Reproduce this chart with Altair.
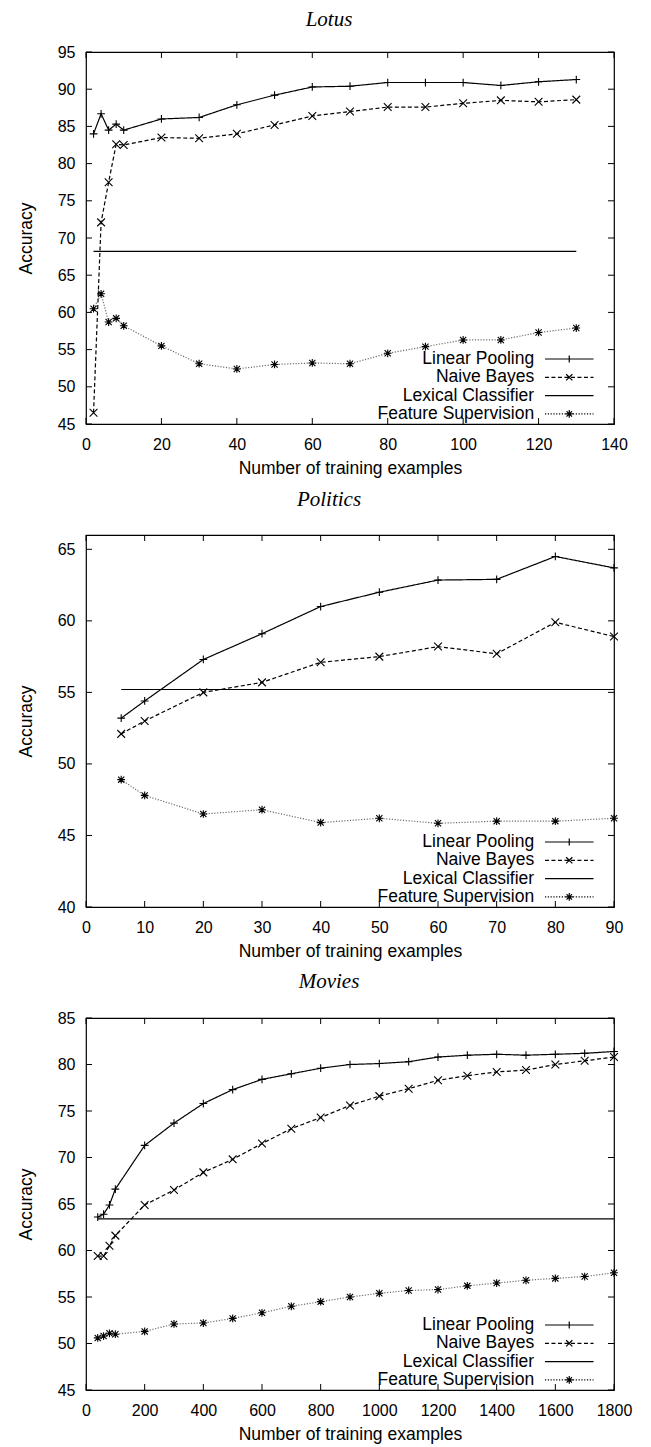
import math
import altair as alt
import pandas as pd

SERIES = ["Linear Pooling", "Naive Bayes", "Lexical Classifier", "Feature Supervision"]

# ---------------- Lotus ----------------
lotus_x = [2, 4, 6, 8, 10, 20, 30, 40, 50, 60, 70, 80, 90, 100, 110, 120, 130]
lotus_lp = [84.0, 86.7, 84.5, 85.3, 84.5, 86.0, 86.2, 87.9, 89.2, 90.3, 90.4, 90.9, 90.9, 90.9, 90.5, 91.0, 91.3]
lotus_nb = [46.5, 72.1, 77.5, 82.6, 82.5, 83.5, 83.4, 84.0, 85.2, 86.4, 87.0, 87.6, 87.6, 88.1, 88.5, 88.3, 88.6]
lotus_fs = [60.5, 62.5, 58.7, 59.2, 58.2, 55.5, 53.1, 52.4, 53.0, 53.2, 53.1, 54.5, 55.4, 56.3, 56.3, 57.3, 57.9]
lotus_lex_x = [2, 130]
lotus_lex = [68.2, 68.2]
lotus_xticks = [0, 20, 40, 60, 80, 100, 120, 140]
lotus_yticks = [45, 50, 55, 60, 65, 70, 75, 80, 85, 90, 95]

# ---------------- Politics ----------------
pol_x = [6, 10, 20, 30, 40, 50, 60, 70, 80, 90]
pol_lp = [53.2, 54.4, 57.3, 59.1, 61.0, 62.0, 62.85, 62.9, 64.5, 63.7]
pol_nb = [52.1, 53.0, 55.0, 55.7, 57.1, 57.5, 58.2, 57.7, 59.9, 58.9]
pol_fs = [48.9, 47.8, 46.5, 46.8, 45.9, 46.2, 45.85, 46.0, 46.0, 46.2]
pol_lex_x = [6, 90]
pol_lex = [55.2, 55.2]
pol_xticks = [0, 10, 20, 30, 40, 50, 60, 70, 80, 90]
pol_yticks = [40, 45, 50, 55, 60, 65]

# ---------------- Movies ----------------
mov_x = [40, 60, 80, 100, 200, 300, 400, 500, 600, 700, 800, 900, 1000,
         1100, 1200, 1300, 1400, 1500, 1600, 1700, 1800]
mov_lp = [63.6, 63.9, 64.9, 66.6, 71.3, 73.7, 75.8, 77.3, 78.4, 79.0, 79.6, 80.0, 80.1,
          80.3, 80.8, 81.0, 81.1, 81.0, 81.1, 81.2, 81.4]
mov_nb = [59.4, 59.4, 60.5, 61.6, 64.9, 66.5, 68.4, 69.8, 71.5, 73.1, 74.3, 75.6, 76.6,
          77.4, 78.3, 78.8, 79.2, 79.4, 80.0, 80.4, 80.8]
mov_fs = [50.6, 50.8, 51.1, 51.0, 51.3, 52.1, 52.2, 52.7, 53.3, 54.0, 54.5, 55.0, 55.4,
          55.7, 55.8, 56.2, 56.5, 56.8, 57.0, 57.2, 57.6]
mov_lex_x = [40, 1800]
mov_lex = [63.4, 63.4]
mov_xticks = [0, 200, 400, 600, 800, 1000, 1200, 1400, 1600, 1800]
mov_yticks = [45, 50, 55, 60, 65, 70, 75, 80, 85]

W, H = 528, 372
TICK = 6
FONT = "Liberation Sans"

# marker shapes (unit square paths)
PLUS = "M-1,0L1,0M0,-1L0,1"
CROSS = "M-1,-1L1,1M-1,1L1,-1"
STAR = "M-1,0L1,0M0,-1L0,1M-0.8,-0.8L0.8,0.8M-0.8,0.8L0.8,-0.8"
NONE = "M0,0"

# legend samples: one symbol unit = 8.75 px; line 48.6 px long, marker in the middle.
UNIT = 8.75
HALF_LINE = 24.3 / UNIT


def arms(dirs, length_px, step_px=1.0):
    """Marker arms split into short sub-paths so a dash pattern leaves them solid."""
    parts = []
    n = max(1, math.ceil(length_px / step_px))
    for dx, dy in dirs:
        norm = math.hypot(dx, dy)
        ux, uy = dx / norm, dy / norm
        for i in range(n):
            a = i * length_px / n / UNIT
            b = (i + 1) * length_px / n / UNIT
            parts.append(f"M{ux*a:.3f},{uy*a:.3f}L{ux*b:.3f},{uy*b:.3f}")
    return "".join(parts)


ORTHO = [(1, 0), (-1, 0), (0, 1), (0, -1)]
DIAG = [(1, 1), (-1, -1), (1, -1), (-1, 1)]
LINE = f"M{-HALF_LINE:.3f},0L{HALF_LINE:.3f},0"
LEG_LP = LINE + arms([(0, 1), (0, -1)], 3.6, 3.6)
LEG_NB = LINE + arms(DIAG, 4.4, 1.1)
LEG_LEX = LINE
LEG_FS = LINE + arms(ORTHO, 3.8, 0.95) + arms(DIAG, 3.8, 0.95)
leg_expr = (
    f"datum.value === 'Linear Pooling' ? '{LEG_LP}' : "
    f"datum.value === 'Naive Bayes' ? '{LEG_NB}' : "
    f"datum.value === 'Lexical Classifier' ? '{LEG_LEX}' : '{LEG_FS}'"
)


def long_df(xs, lp, nb, lex_x, lex, fs):
    rows = []
    for x, v in zip(xs, lp):
        rows.append({"series": SERIES[0], "x": x, "y": v})
    for x, v in zip(xs, nb):
        rows.append({"series": SERIES[1], "x": x, "y": v})
    for x, v in zip(lex_x, lex):
        rows.append({"series": SERIES[2], "x": x, "y": v})
    for x, v in zip(xs, fs):
        rows.append({"series": SERIES[3], "x": x, "y": v})
    return pd.DataFrame(rows)


def panel(title, title_offset, df, xdom, ydom, xticks, yticks):
    xs = alt.Scale(domain=xdom, nice=False, zero=False)
    ys = alt.Scale(domain=ydom, nice=False, zero=False)
    xax = alt.Axis(values=xticks, title="Number of training examples", labelFlush=False,
                   labelOverlap=False, labelPadding=12, titlePadding=7, format="d")
    yax = alt.Axis(values=yticks, title="Accuracy", labelOverlap=False,
                   labelPadding=11, titlePadding=22, format="d")

    lines = alt.Chart(df).mark_line(strokeWidth=1.2).encode(
        x=alt.X("x:Q", scale=xs, axis=xax),
        y=alt.Y("y:Q", scale=ys, axis=yax),
        strokeDash=alt.StrokeDash(
            "series:N",
            scale=alt.Scale(domain=SERIES, range=[[1, 0], [4, 2.5], [1, 0], [1.2, 1.6]]),
            legend=alt.Legend(
                title=None, orient="none", legendX=473.75, legendY=297.5,
                labelAlign="right", labelOffset={"expr": "-44.6"}, labelFont=FONT,
                labelFontSize=17.5, labelColor="black", labelLimit=0, symbolSize=306,
                symbolType={"expr": leg_expr}, symbolStrokeWidth=1.2,
                symbolStrokeColor="black", rowPadding=0.3,
            ),
        ),
        color=alt.condition("datum.series === 'Feature Supervision'",
                            alt.value("#6e6e6e"), alt.value("black")),
    )

    points = alt.Chart(df).transform_filter(
        "datum.series !== 'Lexical Classifier'"
    ).mark_point(filled=False, size=60, strokeWidth=1.1, color="black", opacity=1).encode(
        x=alt.X("x:Q", scale=xs, axis=xax),
        y=alt.Y("y:Q", scale=ys, axis=yax),
        shape=alt.Shape("series:N", scale=alt.Scale(domain=SERIES, range=[PLUS, CROSS, NONE, STAR]),
                        legend=None),
    )

    ydf = pd.DataFrame({"v": yticks})
    xdf = pd.DataFrame({"v": xticks})
    yl = alt.Chart(ydf).mark_rule(color="black", strokeWidth=1).encode(
        y=alt.Y("v:Q", scale=ys, axis=yax), x=alt.value(0), x2=alt.value(TICK))
    yr = alt.Chart(ydf).mark_rule(color="black", strokeWidth=1).encode(
        y=alt.Y("v:Q", scale=ys, axis=yax), x=alt.value(W - TICK), x2=alt.value(W))
    xb = alt.Chart(xdf).mark_rule(color="black", strokeWidth=1).encode(
        x=alt.X("v:Q", scale=xs, axis=xax), y=alt.value(H - TICK), y2=alt.value(H))
    xt = alt.Chart(xdf).mark_rule(color="black", strokeWidth=1).encode(
        x=alt.X("v:Q", scale=xs, axis=xax), y=alt.value(0), y2=alt.value(TICK))

    return alt.layer(lines, points, yl, yr, xb, xt).properties(
        width=W, height=H,
        title=alt.TitleParams(
            text=title, font="Liberation Serif", fontStyle="italic", fontWeight="normal",
            fontSize=21, color="black", anchor="middle", frame="group", dx=-21,
            offset=title_offset, baseline="alphabetic",
        ),
    ).resolve_scale(strokeDash="independent", shape="independent")


p1 = panel("Lotus", -3, long_df(lotus_x, lotus_lp, lotus_nb, lotus_lex_x, lotus_lex, lotus_fs),
           [0, 140], [45, 95], lotus_xticks, lotus_yticks)
p2 = panel("Politics", 8, long_df(pol_x, pol_lp, pol_nb, pol_lex_x, pol_lex, pol_fs),
           [0, 90], [40, 66], pol_xticks, pol_yticks)
p3 = panel("Movies", 1, long_df(mov_x, mov_lp, mov_nb, mov_lex_x, mov_lex, mov_fs),
           [0, 1800], [45, 85], mov_xticks, mov_yticks)

chart = alt.vconcat(p1, p2, p3, spacing=111, bounds="flush").resolve_scale(
    strokeDash="independent", shape="independent"
).resolve_legend(strokeDash="independent").properties(
    padding={"left": 8, "top": 0, "right": 5, "bottom": 0},
    background="white",
).configure_view(
    stroke="black", strokeWidth=1.2
).configure_axis(
    domain=False, grid=False, ticks=False, tickSize=0,
    labelFont=FONT, labelFontSize=16, labelColor="black",
    titleFont=FONT, titleFontSize=17.5, titleFontWeight="normal", titleColor="black",
)

chart.save("out.html", embed_options={"renderer": "svg", "actions": False})
